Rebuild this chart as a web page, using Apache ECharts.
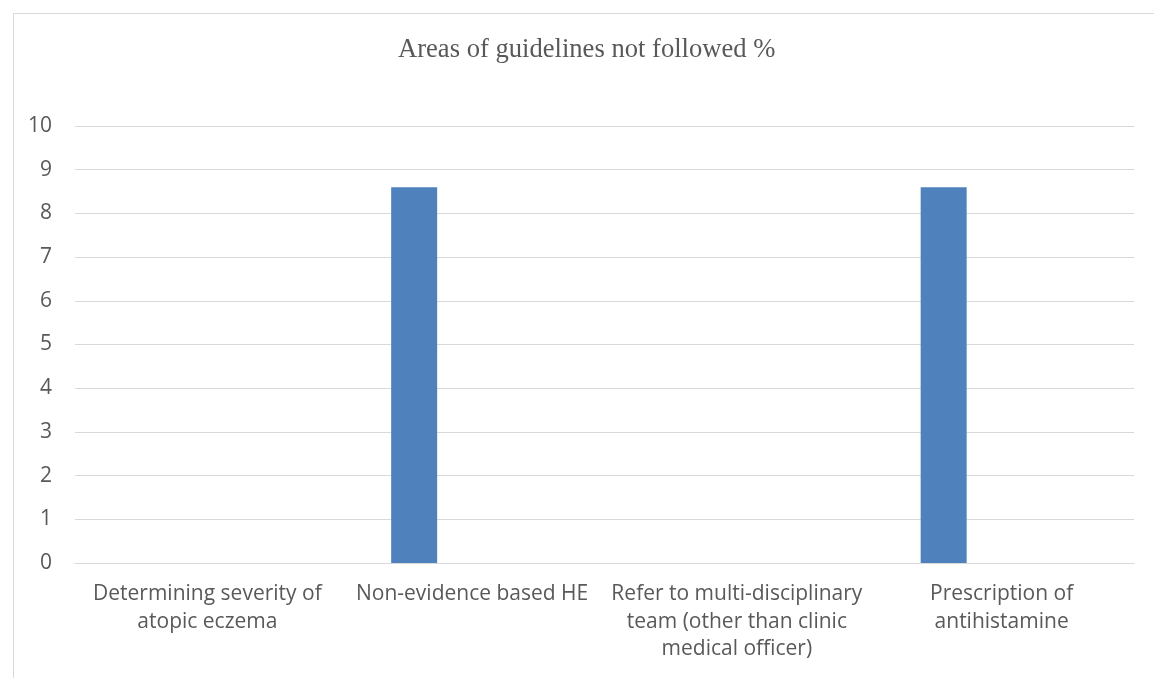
<!DOCTYPE html>
<html>
<head>
<meta charset="utf-8">
<script src="https://cdn.jsdelivr.net/npm/echarts@6/dist/echarts.min.js"></script>
<style>
html,body{margin:0;padding:0;background:#fff;}
#chart{width:1154px;height:678px;}
</style>
</head>
<body>
<div id="chart"></div>
<script>
const categories = [
  "Determining severity of\natopic eczema",
  "Non-evidence based HE",
  "Refer to multi-disciplinary\nteam (other than clinic\nmedical officer)",
  "Prescription of\nantihistamine"
];
const notFollowed = [0, 8.6, 0, 8.6];
const emptySeries = [null, null, null, null];
const titleText = "Areas of guidelines not followed %";

const chart = echarts.init(document.getElementById('chart'), null, {renderer: 'canvas'});
chart.setOption({
  animation: false,
  backgroundColor: '#ffffff',
  graphic: [{
    type: 'rect',
    left: 11, top: 11,
    shape: {width: 1300, height: 800},
    style: {fill: 'none', stroke: '#d9d9d9', lineWidth: 1}
  }],
  title: {
    text: titleText,
    left: 398,
    top: 37,
    padding: 0,
    textStyle: {fontFamily: 'Liberation Serif', fontSize: 26.6, fontWeight: 'normal', color: '#595959'}
  },
  grid: {left: 75, right: 20, top: 126, bottom: 115, containLabel: false},
  xAxis: {
    type: 'category',
    data: categories,
    axisLine: {show: true, lineStyle: {color: '#d9d9d9', width: 1}},
    axisTick: {show: false},
    axisLabel: {interval: 0, margin: 17, fontFamily: 'Open Sans', fontSize: 21, color: '#595959', lineHeight: 27.7, align: 'center'},
    splitLine: {show: false}
  },
  yAxis: {
    type: 'value',
    min: 0, max: 10, interval: 1,
    axisLine: {show: false},
    axisTick: {show: false},
    axisLabel: {margin: 23, fontFamily: 'Open Sans', fontSize: 21, color: '#595959'},
    splitLine: {show: true, lineStyle: {color: '#d9d9d9', width: 1}}
  },
  series: [
    {type: 'bar', data: notFollowed, barWidth: 46, barGap: '152%', itemStyle: {color: '#4f81bd'}},
    {type: 'bar', data: emptySeries, barWidth: 46, itemStyle: {color: '#c0504d'}}
  ]
});
</script>
</body>
</html>
